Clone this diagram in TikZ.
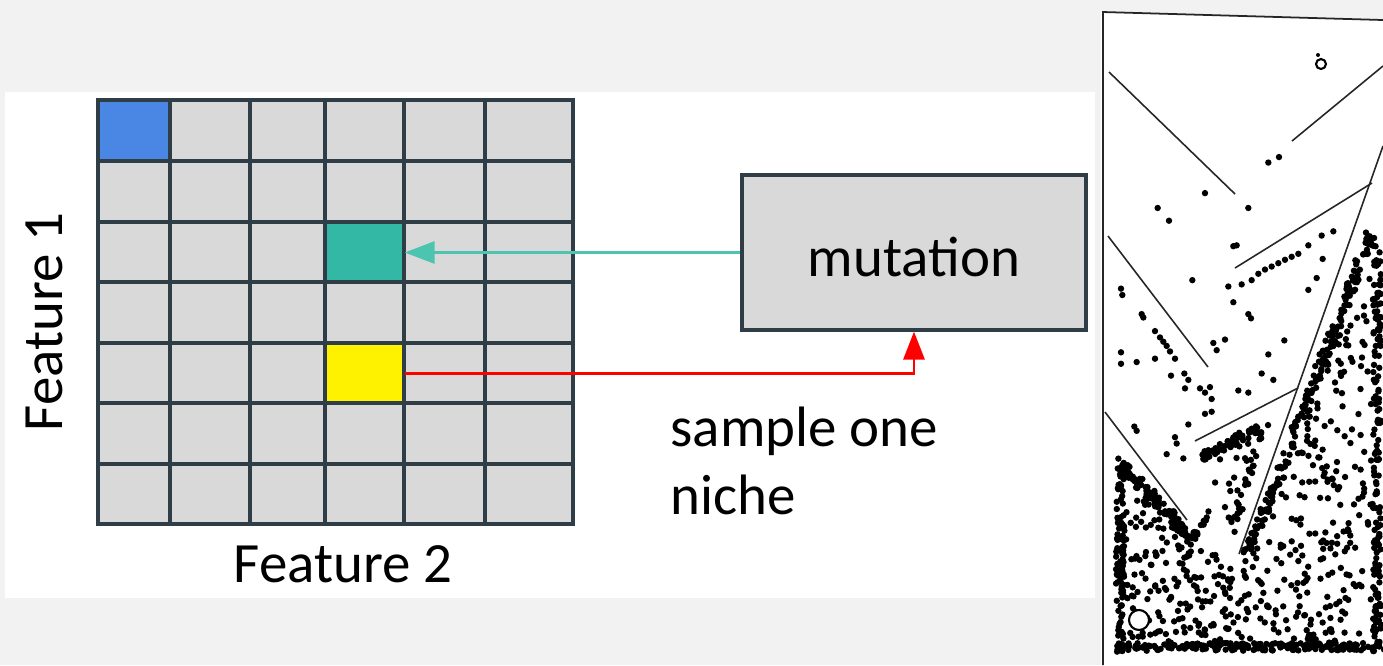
\documentclass[tikz,border=0pt]{standalone}
\usepackage{fontspec}
\setmainfont{Carlito}
\usetikzlibrary{arrows.meta}

\definecolor{pagegray}{HTML}{F2F2F2}
\definecolor{cellgray}{HTML}{D9D9D9}
\definecolor{gridline}{HTML}{2F3E46}
\definecolor{cellblue}{HTML}{4A86E4}
\definecolor{cellteal}{HTML}{33B8A5}
\definecolor{lineteal}{HTML}{4DC4B0}

% random dots inside a triangle: N, then the three corners
\newcommand\dotstri[7]{%
  \foreach \i in {1,...,#1}{
    \pgfmathsetmacro\ru{rnd}\pgfmathsetmacro\rv{rnd}
    \pgfmathsetmacro\su{(\ru+\rv>1)?(1-\ru):\ru}
    \pgfmathsetmacro\sv{(\ru+\rv>1)?(1-\rv):\rv}
    \fill ({#2+\su*(#4-#2)+\sv*(#6-#2)},{#3+\su*(#5-#3)+\sv*(#7-#3)}) circle[radius=3.2];
  }}
% random dots along a segment: N, two ends, spread
\newcommand\dotsline[6]{%
  \foreach \i in {1,...,#1}{
    \pgfmathsetmacro\rt{rnd}
    \fill ({#2+\rt*(#4-#2)+#6*rand},{#3+\rt*(#5-#3)+#6*rand}) circle[radius=3.2];
  }}

\tikzset{
  lbl/.style={font=\fontsize{16.2}{19.3}\selectfont, inner sep=0pt},
  cell/.style={draw=none, inner sep=0pt},
  gridln/.style={draw=gridline, line width=1pt},
  wall/.style={draw=black!85, line width=0.45pt},
}

\begin{document}
\begin{tikzpicture}[x=0.1mm,y=-0.1mm]
    \useasboundingbox (0,0) rectangle (1383,665);
    \fill[pagegray] (0,0) rectangle (1383,665);
    \fill[white] (5,92) rectangle (1095,598);

    % Archive grid
    \fill[cellgray] (98,100) rectangle (573,524);
    \node[cell, fill=cellblue, minimum width=7.2mm, minimum height=6.1mm] (bluecell) at (134,130.5) {};
    \node[cell, fill=cellteal, minimum width=7.9mm, minimum height=6.0mm] (tealcell) at (364.5,252) {};
    \node[cell, fill=yellow, minimum width=7.9mm, minimum height=6.0mm] (yellowcell) at (364.5,373) {};
    \foreach \x in {170,250,325,404,485} {
        \draw[gridln] (\x,100) -- (\x,524);
    }
    \foreach \y in {161,222,282,343,403,464} {
        \draw[gridln] (98,\y) -- (573,\y);
    }
    \draw[gridln, line width=1.3pt] (98,100) rectangle (573,524);

    % Ejes
    \node[lbl, rotate=90] (feat1) at (44,322) {Feature 1};
    \node[lbl] (feat2) at (343,564) {Feature 2};

    % Operador
    \node[lbl, draw=gridline, line width=0.9pt, fill=cellgray, text height=4.8mm, text depth=0mm,
          minimum width=34.4mm, minimum height=15.5mm] (mutation) at (914,252.5) {mutation};
    \node[lbl, anchor=north west, align=left] (sample) at (670,406) {sample one\\niche};

    \draw[lineteal, line width=0.85pt, -{Triangle[length=3mm,width=2.2mm]}]
        (mutation.west) -- (mutation.west -| tealcell.east);
    \draw[red, line width=0.85pt, -{Triangle[length=2.8mm,width=2.1mm]}]
        (yellowcell.east) -| (mutation.south);

    % Laberinto
    \fill[white] (1101,12) -- (1383,20) -- (1383,665) -- (1101,665) -- cycle;
    \draw[wall, line width=0.5pt] (1103,665) -- (1103,12) -- (1383,20);
    \draw[wall] (1109,72) -- (1235,194);
    \draw[wall] (1292,141) -- (1383,66);
    \draw[wall] (1235,268) -- (1372,183);
    \draw[wall] (1383,146) -- (1239,554);
    \draw[wall] (1108,236) -- (1208,367);
    \draw[wall] (1195,441) -- (1298,388);
    \draw[wall] (1105,412) -- (1187,520);

    \pgfmathsetseed{7}
    % bordes densos
    \dotsline{110}{1118}{462}{1190}{537}{5}
    \dotsline{15}{1192}{537}{1215}{505}{3}
    \dotsline{100}{1120}{465}{1120}{650}{4}
    \dotsline{200}{1118}{647}{1381}{647}{4}
    \dotsline{150}{1377}{235}{1377}{650}{4}
    \dotsline{190}{1371}{235}{1244}{565}{5}
    \dotsline{55}{1203}{458}{1265}{424}{4}
    \dotsline{25}{1262}{432}{1236}{520}{3}
    % interior
    \dotstri{210}{1372}{235}{1380}{648}{1244}{565}
    \dotstri{75}{1244}{565}{1380}{648}{1228}{648}
    \dotstri{70}{1118}{462}{1192}{537}{1118}{648}
    \dotstri{30}{1192}{537}{1236}{560}{1228}{648}
    \dotstri{85}{1192}{537}{1228}{648}{1118}{648}
    \dotstri{26}{1200}{450}{1260}{432}{1236}{540}

    % puntos sueltos
    \foreach \a/\b in {520/383,552/370,330/455,188/490,222/520,460/490,415/580,
        425/578,715/545,680/555,683/610,640/578,610/598,590/605,570/612,550/620,
        530/628,510/635,490/645,470/660,440/670,400/675,292/660,665/655,640/683,
        415/712,460/740,468/750,78/680,82/695,140/740,145/748,180/780,195/795,
        205/805,215/815,225/828,240/845,78/830,78/857,125/853,180/845,228/885,
        268/880,280/895,270/915,355/808,390/800,365/825,520/835,568/802,500/880,
        535/895,430/920,460/925,315/915,330/925,345/912,350/940,330/975,350/970,
        118/1005,125/1015,280/1000,240/1030,245/1045,215/1070,265/1080} {
        \fill ({1095+\a/3},{\b/2.356}) circle[radius=3.2];
    }

    % inicio y meta
    \draw[fill=white, line width=0.6pt] (1139,620) circle[radius=10];
    \draw[fill=white, line width=0.6pt] (1321,64) circle[radius=5];
    \fill (1318,55) circle[radius=2];
\end{tikzpicture}
\end{document}
